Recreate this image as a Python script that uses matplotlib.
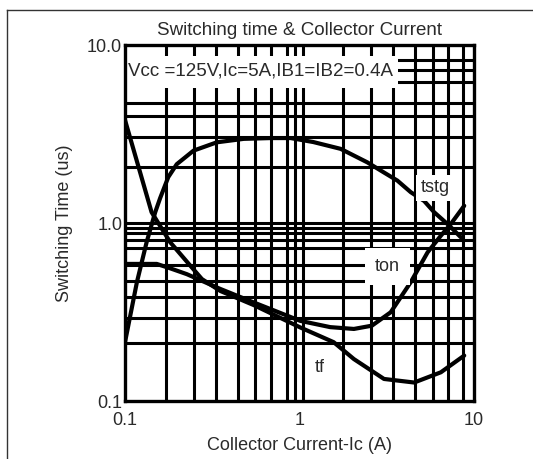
import matplotlib
matplotlib.use("Agg")
import matplotlib.pyplot as plt
from matplotlib.patches import Rectangle
from matplotlib.lines import Line2D

plt.rcParams['font.family'] = ['Liberation Sans', 'DejaVu Sans']

# ---- data ----
tstg_x = [0.1, 0.117, 0.133, 0.149, 0.159, 0.177, 0.198, 0.247, 0.336, 0.479, 0.68, 0.89, 1.2, 1.72, 2.45, 3.0, 3.64, 4.34, 5.18, 5.91, 7.22, 8.4]
tstg_y = [0.214, 0.465, 0.78, 1.15, 1.38, 1.81, 2.14, 2.55, 2.84, 2.97, 3.0, 3.0, 2.85, 2.61, 2.19, 1.94, 1.73, 1.49, 1.33, 1.15, 0.966, 0.832]

ton_x = [0.1, 0.152, 0.18, 0.226, 0.352, 0.546, 1.01, 1.5, 2.05, 2.6, 3.33, 4.34, 5.42, 6.46, 7.38, 8.79]
ton_y = [0.589, 0.589, 0.558, 0.516, 0.426, 0.358, 0.282, 0.26, 0.254, 0.265, 0.315, 0.465, 0.684, 0.849, 0.99, 1.25]

tf_x = [0.1, 0.12, 0.142, 0.1815, 0.237, 0.276, 0.352, 0.546, 1.01, 1.57, 2.05, 3.05, 4.54, 6.46, 8.79]
tf_y = [3.79, 2.04, 1.15, 0.78, 0.575, 0.484, 0.415, 0.346, 0.259, 0.214, 0.172, 0.133, 0.127, 0.145, 0.180]

grid_x = [0.172, 0.248, 0.332, 0.443, 0.556, 0.684, 0.845, 0.942, 1.05, 1.77, 2.57, 3.42, 4.59, 5.80, 7.13, 8.68]
grid_y = [8.24, 7.24, 6.20, 4.72, 3.99, 3.04, 2.06, 1.0, 0.937, 0.879, 0.802, 0.724, 0.581, 0.472, 0.384, 0.292, 0.212]

x_ticks = [0.1, 1, 10]
x_ticklabels = ['0.1', '1', '10']
y_ticks = [0.1, 1, 10]
y_ticklabels = ['0.1', '1.0', '10.0']

title = 'Switching time & Collector Current'
cond_text = 'Vcc =125V,Ic=5A,IB1=IB2=0.4A'

# ---- figure ----
W, H = 533, 459
fig = plt.figure(figsize=(W / 100, H / 100), dpi=100)
ax = fig.add_axes([125 / W, 1 - 401 / H, (474 - 125) / W, (401 - 45) / H])
ax.set_xscale('log')
ax.set_yscale('log')
ax.set_xlim(0.1, 10)
ax.set_ylim(0.1, 10)

txt_color = '#2a2a2a'
fs_big = 13.5
fs = 13

for gx in grid_x:
    ax.axvline(gx, color='black', lw=2.2, zorder=1)
for gy in grid_y:
    ax.axhline(gy, color='black', lw=2.2, zorder=1)

for xs, ys in ((tstg_x, tstg_y), (ton_x, ton_y), (tf_x, tf_y)):
    ax.plot(xs, ys, color='black', lw=3.0, zorder=3,
            solid_capstyle='round', solid_joinstyle='round')

# white box behind condition text
ax.add_patch(Rectangle((0.0, (401 - 88) / 356), (398 - 125) / 349, (88 - 56) / 356,
                       transform=ax.transAxes, facecolor='white', edgecolor='none', zorder=4))
ax.text((261 - 125) / 349, (401 - 71) / 356, cond_text, transform=ax.transAxes,
        ha='center', va='center', fontsize=fs_big, color=txt_color, zorder=5)

ax.text(6.0, 1.58, 'tstg', ha='center', va='center', fontsize=fs, color=txt_color, zorder=5,
        bbox=dict(facecolor='white', edgecolor='none', boxstyle='square,pad=0.25'))
ax.text(3.2, 0.57, 'ton', ha='center', va='center', fontsize=fs, color=txt_color, zorder=5,
        bbox=dict(facecolor='white', edgecolor='none', boxstyle='square,pad=0.55'))
ax.text(1.3, 0.155, 'tf', ha='center', va='center', fontsize=fs, color=txt_color, zorder=5)

for s in ax.spines.values():
    s.set_linewidth(2.4)
    s.set_color('black')
    s.set_zorder(6)

ax.set_xticks(x_ticks)
ax.set_xticklabels(x_ticklabels)
ax.set_yticks(y_ticks)
ax.set_yticklabels(y_ticklabels)
ax.minorticks_off()
ax.tick_params(axis='both', length=0, labelsize=fs, labelcolor=txt_color)
ax.tick_params(axis='x', pad=8)
ax.tick_params(axis='y', pad=2)

ax.set_title(title, fontsize=fs_big, color=txt_color, pad=7)
ax.set_xlabel('Collector Current-Ic (A)', fontsize=fs, color=txt_color, labelpad=6)
ax.set_ylabel('Switching Time (us)', fontsize=fs, color=txt_color, labelpad=10)

# outer frame lines (left and top)
fig.add_artist(Line2D([7 / W, 7 / W], [0, 1 - 10 / H], transform=fig.transFigure, color='#333333', lw=1.0))
fig.add_artist(Line2D([7 / W, 1], [1 - 10 / H, 1 - 10 / H], transform=fig.transFigure, color='#333333', lw=1.0))

fig.savefig('out.png', dpi=100, facecolor='white')
